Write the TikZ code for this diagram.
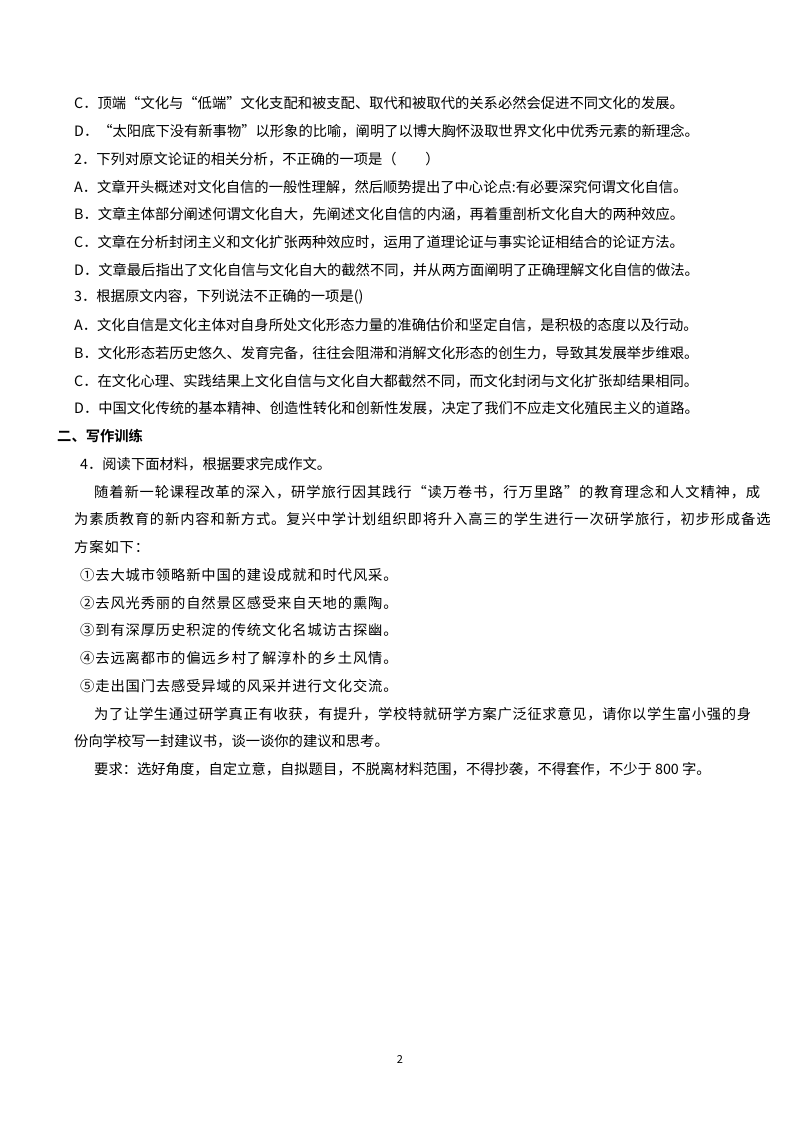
\documentclass[tikz,border=0pt]{standalone}
\usepackage{fontspec}
\setmainfont{Noto Sans CJK SC}
\newfontfamily\cjkb{Noto Sans CJK SC Bold}
\begin{document}
\begin{tikzpicture}[x=1pt,y=-1pt,
  ln/.style={anchor=west,inner sep=0pt,font=\fontsize{14.3}{17}\selectfont},
  lw/.style={ln,font=\fontsize{14.3}{17}\selectfont\addfontfeatures{LetterSpace=6}}]
\fill[white] (0,0) rectangle (800,1132);
\useasboundingbox (0,0) rectangle (800,1132);
\node[ln] (l1) at (74,103) {C．顶端“文化与“低端”文化支配和被支配、取代和被取代的关系必然会促进不同文化的发展。};
\node[ln] (l2) at (74,131) {D．“太阳底下没有新事物”以形象的比喻，阐明了以博大胸怀汲取世界文化中优秀元素的新理念。};
\node[ln] (l3) at (74,159) {2．下列对原文论证的相关分析，不正确的一项是（　　）};
\node[ln] (l4) at (74,187) {A．文章开头概述对文化自信的一般性理解，然后顺势提出了中心论点:有必要深究何谓文化自信。};
\node[ln] (l5) at (74,214) {B．文章主体部分阐述何谓文化自大，先阐述文化自信的内涵，再着重剖析文化自大的两种效应。};
\node[ln] (l6) at (74,242) {C．文章在分析封闭主义和文化扩张两种效应时，运用了道理论证与事实论证相结合的论证方法。};
\node[ln] (l7) at (74,270) {D．文章最后指出了文化自信与文化自大的截然不同，并从两方面阐明了正确理解文化自信的做法。};
\node[ln] (l8) at (74,297) {3．根据原文内容，下列说法不正确的一项是()};
\node[ln] (l9) at (74,325) {A．文化自信是文化主体对自身所处文化形态力量的准确估价和坚定自信，是积极的态度以及行动。};
\node[ln] (l10) at (74,353) {B．文化形态若历史悠久、发育完备，往往会阻滞和消解文化形态的创生力，导致其发展举步维艰。};
\node[ln] (l11) at (74,381) {C．在文化心理、实践结果上文化自信与文化自大都截然不同，而文化封闭与文化扩张却结果相同。};
\node[ln] (l12) at (74,408) {D．中国文化传统的基本精神、创造性转化和创新性发展，决定了我们不应走文化殖民主义的道路。};
\node[ln,font=\fontsize{14.3}{17}\cjkb] (h) at (57,436) {二、写作训练};
\node[ln] (q4) at (80,464) {4．阅读下面材料，根据要求完成作文。};
\node[lw] (p1) at (94,492) {随着新一轮课程改革的深入，研学旅行因其践行“读万卷书，行万里路”的教育理念和人文精神，成};
\node[lw] (p2) at (74,519) {为素质教育的新内容和新方式。复兴中学计划组织即将升入高三的学生进行一次研学旅行，初步形成备选};
\node[lw] (p3) at (74,547) {方案如下：};
\node[lw] (o1) at (80,575) {①去大城市领略新中国的建设成就和时代风采。};
\node[lw] (o2) at (80,603) {②去风光秀丽的自然景区感受来自天地的熏陶。};
\node[lw] (o3) at (80,630) {③到有深厚历史积淀的传统文化名城访古探幽。};
\node[lw] (o4) at (80,658) {④去远离都市的偏远乡村了解淳朴的乡土风情。};
\node[lw] (o5) at (80,686) {⑤走出国门去感受异域的风采并进行文化交流。};
\node[ln,font=\fontsize{14.3}{17}\selectfont\addfontfeatures{LetterSpace=4.5}] (r1) at (94,714) {为了让学生通过研学真正有收获，有提升，学校特就研学方案广泛征求意见，请你以学生富小强的身};
\node[ln] (r2) at (74,741) {份向学校写一封建议书，谈一谈你的建议和思考。};
\node[ln] (r3) at (94,769) {要求：选好角度，自定立意，自拟题目，不脱离材料范围，不得抄袭，不得套作，不少于 800 字。};
\node[ln,font=\fontsize{11}{13}\selectfont,anchor=center] (pg) at (400,1059) {2};
\end{tikzpicture}
\end{document}
